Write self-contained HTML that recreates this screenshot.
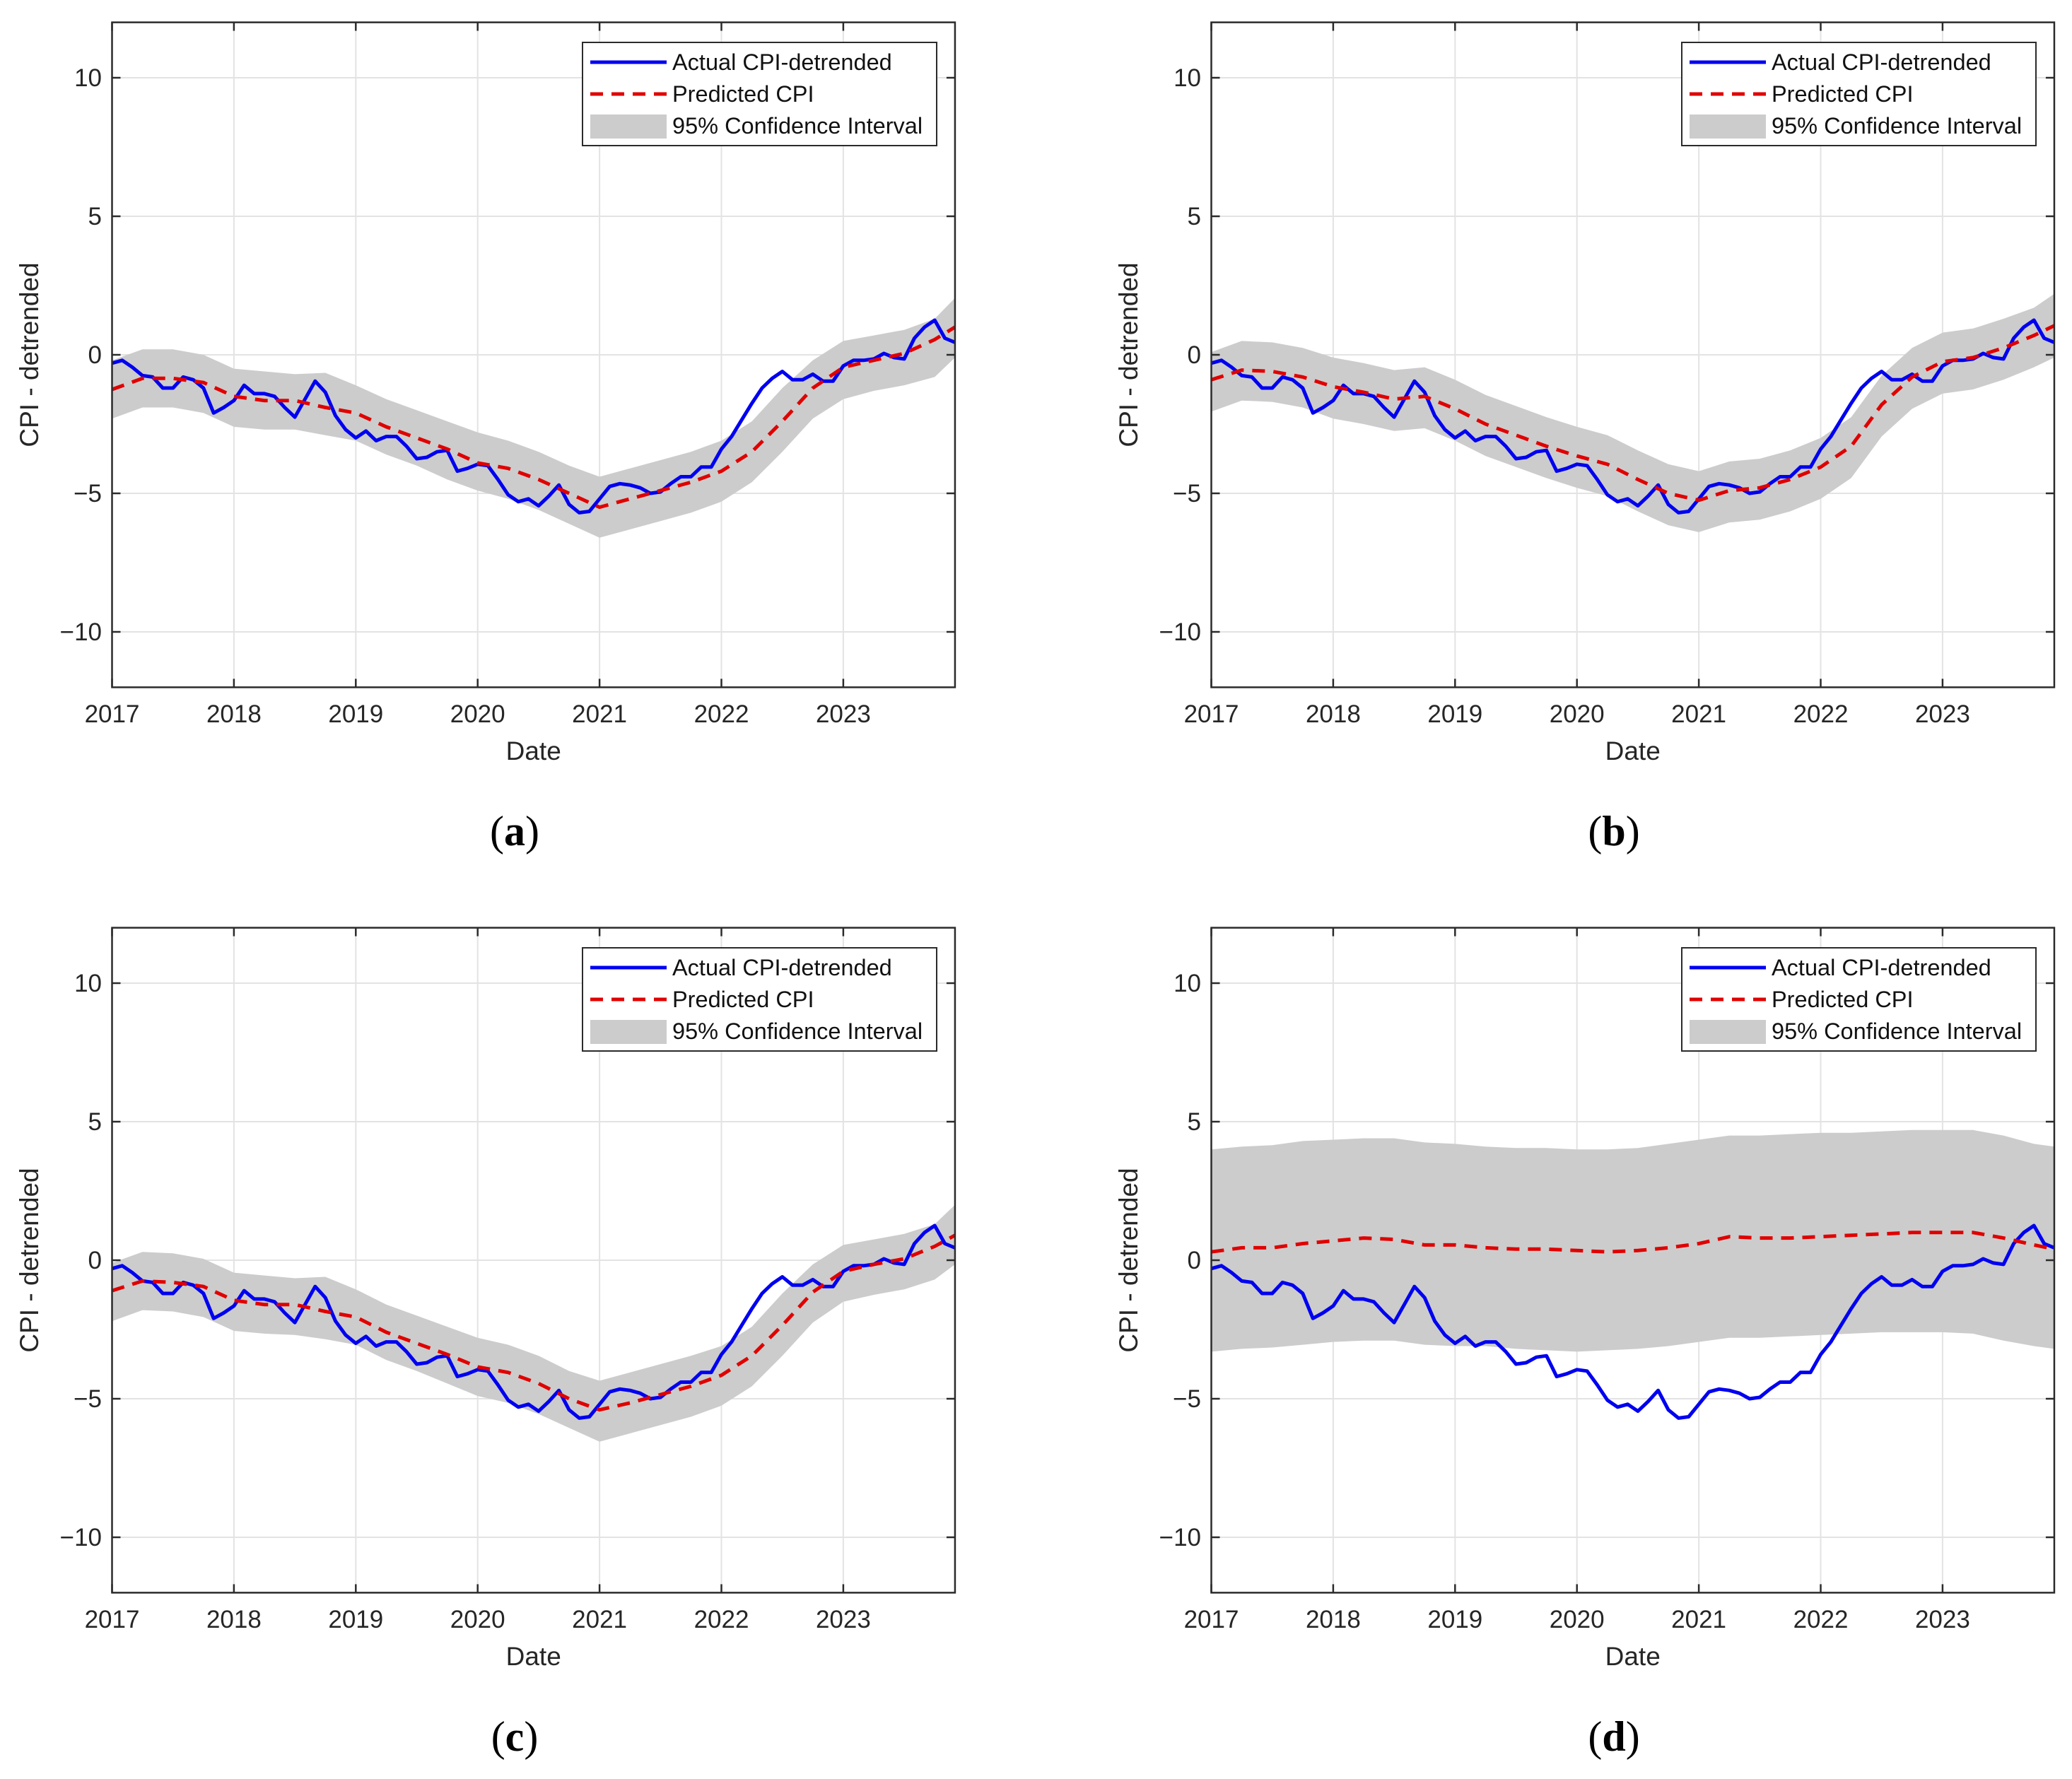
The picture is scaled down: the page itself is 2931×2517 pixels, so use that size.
<!DOCTYPE html>
<html><head><meta charset="utf-8">
<style>
html,body{margin:0;padding:0;background:#fff;}
svg{display:block;font-family:"Liberation Sans",sans-serif;}
</style></head>
<body>
<svg id="fig" width="2931" height="2517" viewBox="0 0 2931 2517" xmlns="http://www.w3.org/2000/svg"></svg>
<script>
// ---- data ----
const xTickLabels = ["2017","2018","2019","2020","2021","2022","2023"];
const yTickValues = [10,5,0,-5,-10];
const yTickLabels = ["10","5","0","\u22125","\u221210"];
const panelLetters = ["a","b","c","d"];
// monthly actual CPI-detrended, Jan 2017 .. Dec 2023
const actual = [-0.3,-0.2,-0.45,-0.75,-0.8,-1.2,-1.2,-0.8,-0.9,-1.2,-2.1,-1.9,
 -1.65,-1.1,-1.4,-1.4,-1.5,-1.9,-2.25,-1.6,-0.95,-1.35,-2.2,-2.7,
 -3.0,-2.75,-3.1,-2.95,-2.95,-3.3,-3.75,-3.7,-3.5,-3.45,-4.2,-4.1,
 -3.95,-4.0,-4.5,-5.05,-5.3,-5.2,-5.45,-5.1,-4.7,-5.4,-5.7,-5.65,
 -5.2,-4.75,-4.65,-4.7,-4.8,-5.0,-4.95,-4.65,-4.4,-4.4,-4.05,-4.05,
 -3.4,-2.95,-2.35,-1.75,-1.2,-0.85,-0.6,-0.9,-0.9,-0.7,-0.95,-0.95,
 -0.4,-0.2,-0.2,-0.15,0.05,-0.1,-0.15,0.6,1.0,1.25,0.6,0.45];
// month index (from Jan 2017) of predicted / CI samples
const sampleMonths = [0,3,6,9,12,15,18,21,24,27,30,33,36,39,42,45,48,51,54,57,60,63,66,69,72,75,78,81,83];
const predA = [-1.25,-0.85,-0.85,-1.0,-1.5,-1.65,-1.65,-1.9,-2.1,-2.6,-3.0,-3.4,-3.9,-4.1,-4.5,-5.0,-5.5,-5.2,-4.9,-4.6,-4.2,-3.5,-2.4,-1.2,-0.45,-0.2,0.05,0.55,1.0];
const upA = [-0.2,0.2,0.2,0.0,-0.5,-0.6,-0.7,-0.65,-1.1,-1.6,-2.0,-2.4,-2.8,-3.1,-3.5,-4.0,-4.4,-4.1,-3.8,-3.5,-3.1,-2.4,-1.2,-0.2,0.5,0.7,0.9,1.3,2.05];
const loA = [-2.3,-1.9,-1.9,-2.1,-2.6,-2.7,-2.7,-2.9,-3.1,-3.6,-4.0,-4.5,-4.9,-5.2,-5.6,-6.1,-6.6,-6.3,-6.0,-5.7,-5.3,-4.6,-3.5,-2.3,-1.6,-1.3,-1.1,-0.8,-0.1];
const predB = [-0.9,-0.55,-0.6,-0.8,-1.15,-1.35,-1.6,-1.5,-1.95,-2.5,-2.9,-3.3,-3.65,-3.95,-4.5,-5.0,-5.25,-4.9,-4.8,-4.5,-4.05,-3.3,-1.8,-0.8,-0.25,-0.1,0.25,0.7,1.05];
const upB = [0.1,0.5,0.45,0.25,-0.1,-0.3,-0.55,-0.45,-0.9,-1.45,-1.85,-2.25,-2.6,-2.9,-3.45,-3.95,-4.2,-3.85,-3.75,-3.45,-3.0,-2.25,-0.75,0.25,0.8,0.95,1.3,1.7,2.2];
const loB = [-2.05,-1.65,-1.7,-1.9,-2.3,-2.5,-2.75,-2.65,-3.1,-3.65,-4.05,-4.45,-4.8,-5.1,-5.65,-6.15,-6.4,-6.05,-5.95,-5.65,-5.2,-4.45,-2.95,-1.95,-1.4,-1.25,-0.9,-0.45,-0.1];
const predC = [-1.1,-0.75,-0.8,-0.95,-1.45,-1.6,-1.6,-1.85,-2.05,-2.6,-3.0,-3.4,-3.85,-4.05,-4.45,-5.0,-5.4,-5.15,-4.85,-4.55,-4.15,-3.45,-2.35,-1.15,-0.4,-0.15,0.05,0.5,0.9];
const upC = [-0.1,0.3,0.25,0.05,-0.45,-0.55,-0.65,-0.6,-1.05,-1.6,-2.0,-2.4,-2.8,-3.05,-3.45,-4.0,-4.35,-4.05,-3.75,-3.45,-3.1,-2.4,-1.2,-0.15,0.55,0.75,0.95,1.3,2.0];
const loC = [-2.2,-1.8,-1.85,-2.05,-2.55,-2.65,-2.7,-2.85,-3.05,-3.6,-4.0,-4.45,-4.9,-5.15,-5.55,-6.05,-6.55,-6.25,-5.95,-5.65,-5.25,-4.55,-3.45,-2.25,-1.5,-1.25,-1.05,-0.7,-0.15];
const predD = [0.3,0.45,0.45,0.6,0.7,0.8,0.75,0.55,0.55,0.45,0.4,0.4,0.35,0.3,0.35,0.45,0.6,0.85,0.8,0.8,0.85,0.9,0.95,1.0,1.0,1.0,0.8,0.55,0.4];
const upD = [4.0,4.1,4.15,4.3,4.35,4.4,4.4,4.25,4.2,4.1,4.05,4.05,4.0,4.0,4.05,4.2,4.35,4.5,4.5,4.55,4.6,4.6,4.65,4.7,4.7,4.7,4.5,4.2,4.1];
const loD = [-3.3,-3.2,-3.15,-3.05,-2.95,-2.9,-2.9,-3.05,-3.1,-3.1,-3.2,-3.25,-3.3,-3.25,-3.2,-3.1,-2.95,-2.8,-2.8,-2.75,-2.7,-2.65,-2.6,-2.6,-2.6,-2.65,-2.9,-3.1,-3.2];

const predSets = [predA,predB,predC,predD];
const upSets = [upA,upB,upC,upD];
const loSets = [loA,loB,loC,loD];

// ---- layout ----
const NS = "http://www.w3.org/2000/svg";
const svg = document.getElementById("fig");
const offsets = [[0,0],[1555,0],[0,1281],[1555,1281]];
const L = 158.5, YEARW = 172.4, Y0 = 502, YU = 39.2;
const R = L + 83/12*YEARW, T = Y0 - 12*YU, B = Y0 + 12*YU;
function xs(m){ return L + m/12*YEARW; }
function ys(v){ return Y0 - v*YU; }
function mk(tag, attrs, parent){
  const e = document.createElementNS(NS, tag);
  for (const k in attrs) e.setAttribute(k, attrs[k]);
  parent.appendChild(e);
  return e;
}

for (let p=0;p<4;p++){
  const g = mk("g",{transform:`translate(${offsets[p][0]},${offsets[p][1]})`},svg);
  
  
  mk("rect",{x:L,y:T,width:R-L,height:B-T,fill:"#fff"},g);
  const grid = mk("g",{stroke:"#e3e3e3","stroke-width":2},g);
  
  
  for (let i=0;i<xTickLabels.length;i++){ const x=xs(i*12); mk("line",{x1:x,x2:x,y1:T,y2:B},grid); }
  for (const v of yTickValues){ const y=ys(v); mk("line",{x1:L,x2:R,y1:y,y2:y},grid); }
  let d = "";
  sampleMonths.forEach((m,i)=>{ d += (i?"L":"M")+xs(m).toFixed(1)+","+ys(upSets[p][i]).toFixed(1); });
  for (let i=sampleMonths.length-1;i>=0;i--) d += "L"+xs(sampleMonths[i]).toFixed(1)+","+ys(loSets[p][i]).toFixed(1);
  const band = mk("path",{d:d+"Z",fill:"#cccccc",stroke:"none"},g);
  
  
  let da = "";
  actual.forEach((v,i)=>{ da += (i?"L":"M")+xs(i).toFixed(1)+","+ys(v).toFixed(1); });
  const act = mk("path",{d:da,fill:"none",stroke:"#0000f0","stroke-width":5,"stroke-linejoin":"round"},g);
  
  
  let dp = "";
  sampleMonths.forEach((m,i)=>{ dp += (i?"L":"M")+xs(m).toFixed(1)+","+ys(predSets[p][i]).toFixed(1); });
  const pr = mk("path",{d:dp,fill:"none",stroke:"#e00000","stroke-width":5,"stroke-dasharray":"18 12"},g);
  
  
  const ax = mk("g",{stroke:"#2b2b2b","stroke-width":2.5,fill:"none"},g);
  
  
  mk("rect",{x:L,y:T,width:R-L,height:B-T},ax);
  for (let i=0;i<xTickLabels.length;i++){ const x=xs(i*12);
    mk("line",{x1:x,x2:x,y1:B,y2:B-12},ax); mk("line",{x1:x,x2:x,y1:T,y2:T+12},ax); }
  for (const v of yTickValues){ const y=ys(v);
    mk("line",{x1:L,x2:L+12,y1:y,y2:y},ax); mk("line",{x1:R,x2:R-12,y1:y,y2:y},ax); }
  xTickLabels.forEach((s,i)=>{
    const t = mk("text",{x:xs(i*12),y:1022,"font-size":35,"text-anchor":"middle",fill:"#262626"},g);
    t.textContent = s;
    
    
  });
  yTickValues.forEach((v,i)=>{
    const t = mk("text",{x:144,y:ys(v)+12,"font-size":35,"text-anchor":"end",fill:"#262626"},g);
    t.textContent = yTickLabels[i];
    
    
  });
  const xt = mk("text",{x:(L+R)/2,y:1075,"font-size":37,"text-anchor":"middle",fill:"#262626"},g);
  xt.textContent = "Date";
  
  
  const yt = mk("text",{x:0,y:0,"font-size":37,"text-anchor":"middle",fill:"#262626",transform:`translate(54,${Y0}) rotate(-90)`},g);
  yt.textContent = "CPI - detrended";
  
  
  const lg = mk("g",{},g);
  
  
  mk("rect",{x:824,y:60,width:501,height:146,fill:"#fff",stroke:"#2b2b2b","stroke-width":2},lg);
  mk("line",{x1:835,x2:943,y1:88,y2:88,stroke:"#0000f0","stroke-width":5},lg);
  mk("line",{x1:835,x2:943,y1:133,y2:133,stroke:"#e00000","stroke-width":5,"stroke-dasharray":"18 12"},lg);
  mk("rect",{x:835,y:162,width:108,height:34,fill:"#cccccc"},lg);
  const labs = ["Actual CPI-detrended","Predicted CPI","95% Confidence Interval"];
  labs.forEach((s,i)=>{
    const t = mk("text",{x:951,y:99+i*45,"font-size":32.5,fill:"#111"},lg);
    t.textContent = s;
    
    
  });
  const cap = mk("text",{x:728,y:1196,"font-size":60,"text-anchor":"middle",fill:"#000","font-family":"Liberation Serif, serif"},g);
  
  
  const t1 = mk("tspan",{},cap); t1.textContent = "(";
  const t2 = mk("tspan",{"font-weight":"bold"},cap); t2.textContent = panelLetters[p];
  const t3 = mk("tspan",{},cap); t3.textContent = ")";
}
</script>
</body></html>
